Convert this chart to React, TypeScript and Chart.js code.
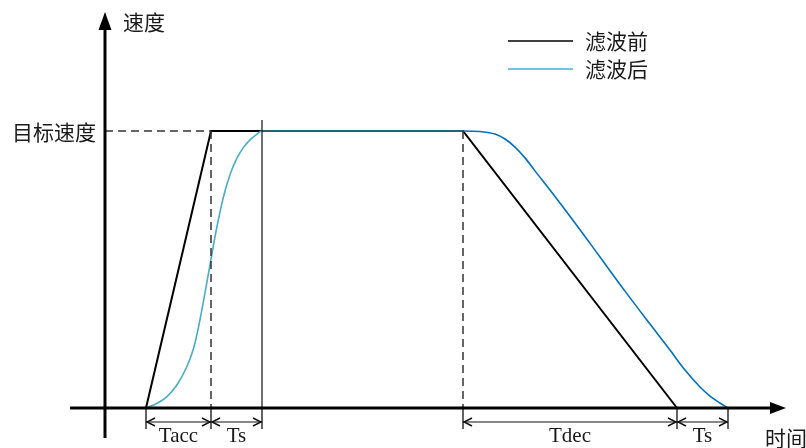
import React, { useEffect, useRef } from "react";
import { Chart, registerables } from "chart.js";

Chart.register(...registerables);

// ---- data ----
const seriesNames = ["滤波前", "滤波后"];
const beforeT = [0, 1.3, 6.34, 10.62];
const beforeV = [0, 1, 1, 0];
const afterT = [
  0, 0.214, 0.414, 0.614, 0.814, 0.946, 1.046, 1.134, 1.214, 1.314, 1.414,
  1.546, 1.68, 1.814, 1.946, 2.08, 2.214, 2.32,
  6.34, 6.68, 6.98, 7.18, 7.38, 7.58, 7.78, 8.08, 8.58, 9.08, 9.58, 10.08,
  10.48, 10.78, 11.08, 11.28, 11.48, 11.64,
];
const afterV = [
  0, 0.016, 0.04, 0.082, 0.148, 0.212, 0.288, 0.37, 0.45, 0.552, 0.65,
  0.76, 0.842, 0.9, 0.94, 0.968, 0.988, 1,
  1, 0.998, 0.989, 0.971, 0.942, 0.903, 0.856, 0.787, 0.668, 0.545, 0.422,
  0.303, 0.209, 0.137, 0.076, 0.043, 0.018, 0,
];
const targetSpeed = 1;
const markT = [0, 1.3, 2.32, 6.34, 10.62, 11.64];
const dimStart = [0, 1.3, 6.34, 10.62];
const dimEnd = [1.3, 2.32, 10.62, 11.64];
const dimLabels = ["Tacc", "Ts", "Tdec", "Ts"];
const yTitle = "速度";
const xTitle = "时间";
const targetLabel = "目标速度";

// ---- layout constants (value space) ----
const X_MIN = -2.92;
const X_MAX = 13.2;
const Y_MIN = -0.1444;
const Y_MAX = 1.4729;
const Y_AXIS_AT = -0.82;
const X_AXIS_FROM = -1.52;
const X_AXIS_TO = 12.8;
const Y_AXIS_FROM = -0.108;
const Y_AXIS_TO = 1.43;

const RISE_END = 2.32;
const DEC_START = 6.34;

const SERIF = '"Liberation Serif", "Times New Roman", "Noto Sans CJK SC", serif';
const CJK = '"Noto Sans CJK SC", "Liberation Serif", sans-serif';

const diagramPlugin = {
  id: "diagram",
  afterDatasetsDraw(chart: any) {
    const { ctx } = chart;
    const xs = chart.scales.x;
    const ys = chart.scales.y;
    const px = (v: number) => xs.getPixelForValue(v);
    const py = (v: number) => ys.getPixelForValue(v);
    const y0 = py(0);
    const yT = py(targetSpeed);
    const yAx = px(Y_AXIS_AT);

    ctx.save();

    // dashed helper lines
    ctx.strokeStyle = "#333";
    ctx.lineWidth = 1.5;
    ctx.setLineDash([8, 5]);
    ctx.beginPath();
    ctx.moveTo(yAx, yT);
    ctx.lineTo(px(beforeT[1]), yT);
    ctx.moveTo(px(beforeT[1]), yT);
    ctx.lineTo(px(beforeT[1]), y0);
    ctx.moveTo(px(DEC_START), yT);
    ctx.lineTo(px(DEC_START), y0);
    ctx.stroke();
    ctx.setLineDash([]);

    // solid vertical at end of filtered rise
    ctx.strokeStyle = "#111";
    ctx.lineWidth = 1.2;
    ctx.beginPath();
    ctx.moveTo(px(RISE_END), yT - 11);
    ctx.lineTo(px(RISE_END), y0);
    ctx.stroke();

    // ticks below axis
    ctx.lineWidth = 1.3;
    ctx.beginPath();
    markT.forEach((t) => {
      ctx.moveTo(px(t), y0);
      ctx.lineTo(px(t), y0 + 21);
    });
    ctx.stroke();

    // dimension arrows
    const dy = y0 + 14;
    ctx.strokeStyle = "#111";
    for (let i = 0; i < dimLabels.length; i++) {
      const a = px(dimStart[i]);
      const b = px(dimEnd[i]);
      ctx.lineWidth = 1;
      ctx.beginPath();
      ctx.moveTo(a, dy);
      ctx.lineTo(b, dy);
      ctx.stroke();
      ctx.lineWidth = 1.4;
      ctx.beginPath();
      ctx.moveTo(a + 9, dy - 4);
      ctx.lineTo(a + 1, dy);
      ctx.lineTo(a + 9, dy + 4);
      ctx.moveTo(b - 9, dy - 4);
      ctx.lineTo(b - 1, dy);
      ctx.lineTo(b - 9, dy + 4);
      ctx.stroke();
      ctx.fillStyle = "#1a1a1a";
      ctx.font = "21px " + SERIF;
      ctx.textAlign = "center";
      ctx.textBaseline = "alphabetic";
      ctx.fillText(dimLabels[i], (a + b) / 2, y0 + 34);
    }

    // axes
    ctx.strokeStyle = "#000";
    ctx.fillStyle = "#000";
    ctx.lineWidth = 3;
    const xEnd = px(X_AXIS_TO);
    const yTop = py(Y_AXIS_TO);
    ctx.beginPath();
    ctx.moveTo(px(X_AXIS_FROM), y0);
    ctx.lineTo(xEnd - 10, y0);
    ctx.moveTo(yAx, py(Y_AXIS_FROM));
    ctx.lineTo(yAx, yTop + 12);
    ctx.stroke();
    ctx.beginPath();
    ctx.moveTo(xEnd, y0);
    ctx.lineTo(xEnd - 16, y0 - 6);
    ctx.lineTo(xEnd - 16, y0 + 6);
    ctx.closePath();
    ctx.fill();
    ctx.beginPath();
    ctx.moveTo(yAx, yTop);
    ctx.lineTo(yAx - 6.5, yTop + 18);
    ctx.lineTo(yAx + 6.5, yTop + 18);
    ctx.closePath();
    ctx.fill();

    // titles
    ctx.fillStyle = "#1a1a1a";
    ctx.font = "21px " + CJK;
    ctx.textBaseline = "middle";
    ctx.textAlign = "left";
    ctx.fillText(yTitle, yAx + 18, yTop + 10);
    ctx.fillText(xTitle, xEnd - 21, y0 + 30);
    ctx.textAlign = "right";
    ctx.fillText(targetLabel, yAx - 9, yT + 1);

    // legend
    const ds = chart.data.datasets;
    ctx.textAlign = "left";
    const order = [0, 1];
    order.forEach((i, k) => {
      const ly = 41 + k * 28;
      ctx.strokeStyle = ds[i].legendColor;
      ctx.lineWidth = 1.6;
      ctx.beginPath();
      ctx.moveTo(508, ly);
      ctx.lineTo(573, ly);
      ctx.stroke();
      ctx.fillStyle = "#1a1a1a";
      ctx.fillText(ds[i].label, 585, ly);
    });

    ctx.restore();
  },
};

export default function App() {
  const ref = useRef<HTMLCanvasElement | null>(null);

  useEffect(() => {
    if (!ref.current) return;
    const chart = new Chart(ref.current, {
      type: "line",
      data: {
        datasets: [
          {
            label: seriesNames[0],
            data: beforeT.map((t, i) => ({ x: t, y: beforeV[i] })),
            borderColor: "#000",
            borderWidth: 2,
            pointRadius: 0,
            tension: 0,
            order: 2,
            legendColor: "#000",
          } as any,
          {
            label: seriesNames[1],
            data: afterT.map((t, i) => ({ x: t, y: afterV[i] })),
            borderColor: "#3db2e0",
            borderWidth: 1.6,
            pointRadius: 0,
            cubicInterpolationMode: "monotone",
            order: 1,
            legendColor: "#3db2e0",
            segment: {
              borderColor: (c: any) => {
                const x = c.p0.parsed.x;
                if (x < RISE_END - 1e-6) return "#4bacc6";
                if (x < DEC_START - 1e-6) return "#31849b";
                return "#0070c0";
              },
            },
          } as any,
        ],
      },
      options: {
        responsive: false,
        maintainAspectRatio: false,
        animation: false,
        layout: { padding: 0 },
        scales: {
          x: { type: "linear", min: X_MIN, max: X_MAX, display: false },
          y: { type: "linear", min: Y_MIN, max: Y_MAX, display: false },
        },
        plugins: {
          legend: { display: false },
          tooltip: { enabled: false },
        },
      },
      plugins: [diagramPlugin],
    });
    return () => chart.destroy();
  }, []);

  return (
    <div style={{ position: "fixed", left: 0, top: 0, width: 806, height: 448, background: "#fff" }}>
      <canvas ref={ref} width={806} height={448} style={{ display: "block" }} />
    </div>
  );
}
